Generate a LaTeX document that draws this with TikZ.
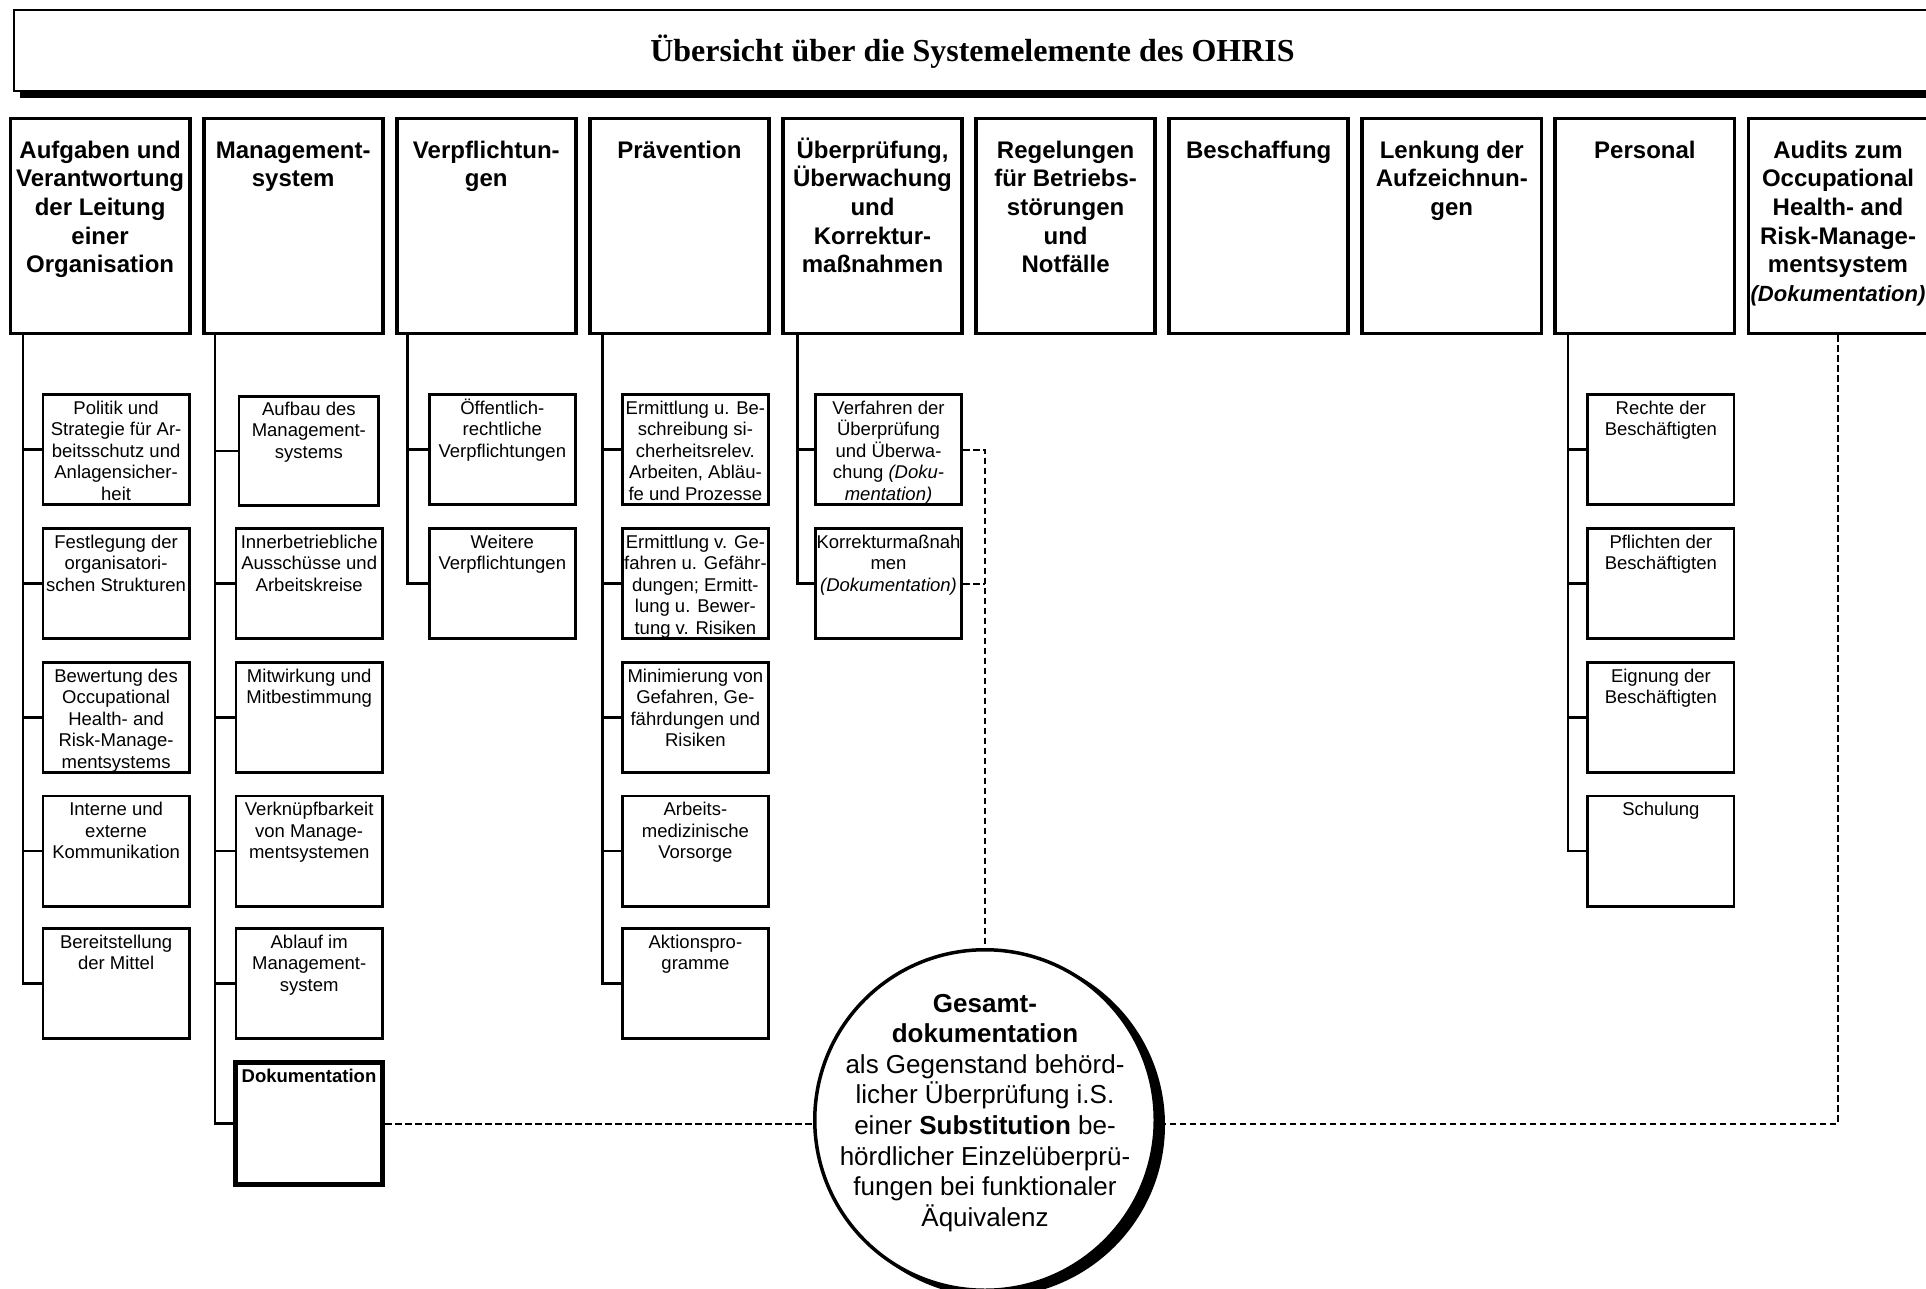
\documentclass[tikz,border=0pt]{standalone}
\usepackage{fontspec}
\setmainfont{Liberation Sans}
\newfontfamily\titleserif{Liberation Serif}
\usetikzlibrary{calc}

% centred stack of lines with a fixed baseline distance;
% the reference point is the baseline of the first line
\newcommand\stk[1]{\vtop{\let\\\cr\lineskiplimit=-\maxdimen\lineskip=0pt\relax
  \halign{\hfil##\hfil\cr#1\crcr}}}

\tikzset{
  hdrbox/.style={draw, line width=1.9pt, inner sep=0pt, minimum width=89.6pt, minimum height=107.4pt},
  hdrtxt/.style={inner sep=0pt, anchor=base, font=\fontsize{12pt}{14.35pt}\selectfont\bfseries},
  subbox/.style={draw, line width=1.35pt, inner sep=0pt, minimum width=73.15pt, minimum height=55.15pt},
  subtxt/.style={inner sep=0pt, anchor=base, font=\fontsize{9.25pt}{10.8pt}\selectfont},
  conn/.style={line width=1.3pt},
  dashlink/.style={line width=1pt, dash pattern=on 3.3pt off 1.7pt},
}

\begin{document}
\begin{tikzpicture}[x=0.5pt, y=-0.5pt]
\useasboundingbox (0,0) rectangle (1926,1289);

% ---------- title bar with drop shadow ----------
\node[fill=black, inner sep=0pt, minimum width=961pt, minimum height=40.25pt, anchor=north west] (titleshadow) at (20,17.5) {};
\node[draw, fill=white, line width=1pt, inner sep=0pt, minimum width=961pt, minimum height=40.25pt, anchor=north west] (title) at (13,9.5) {};
\node[inner sep=0pt, anchor=base, font=\titleserif\bfseries\fontsize{16pt}{19pt}\selectfont] (ttl)
  at ($(title.north)+(-2.5,52.5)$) {Übersicht über die Systemelemente des OHRIS};

% ---------- system elements ----------
\node[hdrbox] (h1) at (100.1,226) {};
\node[hdrtxt] at ($(h1.north)+(0,41.4)$) {\stk{Aufgaben und\\Verantwortung\\der Leitung\\einer\\Organisation}};
\node[hdrbox] (h2) at (293.2,226) {};
\node[hdrtxt] at ($(h2.north)+(0,41.4)$) {\stk{Management-\\system}};
\node[hdrbox] (h3) at (486.3,226) {};
\node[hdrtxt] at ($(h3.north)+(0,41.4)$) {\stk{Verpflichtun-\\gen}};
\node[hdrbox] (h4) at (679.4,226) {};
\node[hdrtxt] at ($(h4.north)+(0,41.4)$) {\stk{Prävention}};
\node[hdrbox] (h5) at (872.5,226) {};
\node[hdrtxt] at ($(h5.north)+(0,41.4)$) {\stk{Überprüfung,\\Überwachung\\und\\Korrektur-\\maßnahmen}};
\node[hdrbox] (h6) at (1065.6,226) {};
\node[hdrtxt] at ($(h6.north)+(0,41.4)$) {\stk{Regelungen\\für Betriebs-\\störungen\\und\\Notfälle}};
\node[hdrbox] (h7) at (1258.7,226) {};
\node[hdrtxt] at ($(h7.north)+(0,41.4)$) {\stk{Beschaffung}};
\node[hdrbox] (h8) at (1451.8,226) {};
\node[hdrtxt] at ($(h8.north)+(0,41.4)$) {\stk{Lenkung der\\Aufzeichnun-\\gen}};
\node[hdrbox] (h9) at (1644.9,226) {};
\node[hdrtxt] at ($(h9.north)+(0,41.4)$) {\stk{Personal}};
\node[hdrbox] (h10) at (1838.0,226) {};
\node[hdrtxt] at ($(h10.north)+(0,41.4)$) {\stk{Audits zum\\Occupational\\Health- and\\Risk-Manage-\\mentsystem\\{\fontsize{11pt}{14.35pt}\selectfont\itshape(Dokumentation)}}};

% ---------- column 1 ----------
\node[subbox] (c1r1) at (116.1,449.5) {};
\node[subtxt] at ($(c1r1.north)+(0,21)$) {\stk{Politik und\\Strategie für Ar-\\beitsschutz und\\Anlagensicher-\\heit}};
\node[subbox] (c1r2) at (116.1,583.5) {};
\node[subtxt] at ($(c1r2.north)+(0,21)$) {\stk{Festlegung der\\organisatori-\\schen Strukturen}};
\node[subbox] (c1r3) at (116.1,717.5) {};
\node[subtxt] at ($(c1r3.north)+(0,21)$) {\stk{Bewertung des\\Occupational\\Health- and\\Risk-Manage-\\mentsystems}};
\node[subbox] (c1r4) at (116.1,851) {};
\node[subtxt] at ($(c1r4.north)+(0,21)$) {\stk{Interne und\\externe\\Kommunikation}};
\node[subbox] (c1r5) at (116.1,983.5) {};
\node[subtxt] at ($(c1r5.north)+(0,21)$) {\stk{Bereitstellung\\der Mittel}};

% ---------- column 2 ----------
\node[subbox, minimum width=69.8pt, minimum height=54.65pt] (c2r1) at (308.85,451) {};
\node[subtxt] at ($(c2r1.north)+(0,20)$) {\stk{Aufbau des\\Management-\\systems}};
\node[subbox] (c2r2) at (309.2,583.5) {};
\node[subtxt] at ($(c2r2.north)+(0,21)$) {\stk{Innerbetriebliche\\Ausschüsse und\\Arbeitskreise}};
\node[subbox] (c2r3) at (309.2,717.5) {};
\node[subtxt] at ($(c2r3.north)+(0,21)$) {\stk{Mitwirkung und\\Mitbestimmung}};
\node[subbox] (c2r4) at (309.2,851) {};
\node[subtxt] at ($(c2r4.north)+(0,21)$) {\stk{Verknüpfbarkeit\\von Manage-\\mentsystemen}};
\node[subbox] (c2r5) at (309.2,983.5) {};
\node[subtxt] at ($(c2r5.north)+(0,21)$) {\stk{Ablauf im\\Management-\\system}};
\node[subbox, line width=2.5pt, minimum width=73.5pt, minimum height=61pt] (c2r6) at (309,1123.5) {};
\node[subtxt] at ($(c2r6.north)+(0,22.5)$) {\stk{\textbf{Dokumentation}}};

% ---------- column 3 ----------
\node[subbox] (c3r1) at (502.3,449.5) {};
\node[subtxt] at ($(c3r1.north)+(0,21)$) {\stk{Öffentlich-\\rechtliche\\Verpflichtungen}};
\node[subbox] (c3r2) at (502.3,583.5) {};
\node[subtxt] at ($(c3r2.north)+(0,21)$) {\stk{Weitere\\Verpflichtungen}};

% ---------- column 4 ----------
\node[subbox] (c4r1) at (695.4,449.5) {};
\node[subtxt] at ($(c4r1.north)+(0,21)$) {\stk{Ermittlung u. Be-\\schreibung si-\\cherheitsrelev.\\Arbeiten, Abläu-\\fe und Prozesse}};
\node[subbox] (c4r2) at (695.4,583.5) {};
\node[subtxt] at ($(c4r2.north)+(0,21)$) {\stk{Ermittlung v. Ge-\\fahren u. Gefähr-\\dungen; Ermitt-\\lung u. Bewer-\\tung v. Risiken}};
\node[subbox] (c4r3) at (695.4,717.5) {};
\node[subtxt] at ($(c4r3.north)+(0,21)$) {\stk{Minimierung von\\Gefahren, Ge-\\fährdungen und\\Risiken}};
\node[subbox] (c4r4) at (695.4,851) {};
\node[subtxt] at ($(c4r4.north)+(0,21)$) {\stk{Arbeits-\\medizinische\\Vorsorge}};
\node[subbox] (c4r5) at (695.4,983.5) {};
\node[subtxt] at ($(c4r5.north)+(0,21)$) {\stk{Aktionspro-\\gramme}};

% ---------- column 5 ----------
\node[subbox] (c5r1) at (888.5,449.5) {};
\node[subtxt] at ($(c5r1.north)+(0,21)$) {\stk{Verfahren der\\Überprüfung\\und Überwa-\\chung \textit{(Doku-}\\\textit{mentation)}}};
\node[subbox] (c5r2) at (888.5,583.5) {};
\node[subtxt] at ($(c5r2.north)+(0,21)$) {\stk{Korrekturmaßnah\\men\\\textit{(Dokumentation)}}};

% ---------- column 9 ----------
\node[subbox] (c9r1) at (1660.9,449.5) {};
\node[subtxt] at ($(c9r1.north)+(0,21)$) {\stk{Rechte der\\Beschäftigten}};
\node[subbox] (c9r2) at (1660.9,583.5) {};
\node[subtxt] at ($(c9r2.north)+(0,21)$) {\stk{Pflichten der\\Beschäftigten}};
\node[subbox] (c9r3) at (1660.9,717.5) {};
\node[subtxt] at ($(c9r3.north)+(0,21)$) {\stk{Eignung der\\Beschäftigten}};
\node[subbox] (c9r4) at (1660.9,851) {};
\node[subtxt] at ($(c9r4.north)+(0,21)$) {\stk{Schulung}};

% ---------- tree trunks and branches ----------
\coordinate (v1) at (23,0);
\coordinate (v2) at (215,0);
\coordinate (v3) at (407.3,0);
\coordinate (v4) at (602.7,0);
\coordinate (v5) at (797.3,0);
\coordinate (v9) at (1568,0);

\draw[conn] (v1 |- h1.south) |- (c1r5.west);
\foreach \n in {c1r1,c1r2,c1r3,c1r4} \draw[conn] (v1 |- \n.west) -- (\n.west);
\draw[conn] (v2 |- h2.south) |- (c2r6.west);
\foreach \n in {c2r1,c2r2,c2r3,c2r4,c2r5} \draw[conn] (v2 |- \n.west) -- (\n.west);
\draw[conn] (v3 |- h3.south) |- (c3r2.west);
\draw[conn] (v3 |- c3r1.west) -- (c3r1.west);
\draw[conn] (v4 |- h4.south) |- (c4r5.west);
\foreach \n in {c4r1,c4r2,c4r3,c4r4} \draw[conn] (v4 |- \n.west) -- (\n.west);
\draw[conn] (v5 |- h5.south) |- (c5r2.west);
\draw[conn] (v5 |- c5r1.west) -- (c5r1.west);
\draw[conn] (v9 |- h9.south) |- (c9r4.west);
\foreach \n in {c9r1,c9r2,c9r3} \draw[conn] (v9 |- \n.west) -- (\n.west);

% ---------- links to the overall documentation ----------
\coordinate (cc) at (985,1120);
\coordinate (hub) at (c2r6.east -| cc);
\draw[dashlink] (c2r6.east) -- (hub);
\draw[dashlink] (h10.south) |- (hub);
\draw[dashlink] (c5r1.east) -| (hub);
\draw[dashlink] (c5r2.east) -- (c5r2.east -| hub);

% ---------- overall documentation circle with shadow ----------
\node[circle, fill=black, inner sep=0pt, minimum size=172pt] (circsh) at ($(cc)+(8,5)$) {};
\node[circle, draw, fill=white, line width=1.75pt, inner sep=0pt, minimum size=170.25pt] (circ) at (cc) {};
\node[inner sep=0pt, anchor=base, font=\fontsize{13pt}{15.3pt}\selectfont] (circtxt) at ($(circ.center)+(0,-108)$)
  {\stk{\textbf{Gesamt-}\\\textbf{dokumentation}\\als Gegenstand behörd-\\licher Überprüfung i.S.\\einer \textbf{Substitution} be-\\hördlicher Einzelüberprü-\\fungen bei funktionaler\\Äquivalenz}};
\end{tikzpicture}
\end{document}
